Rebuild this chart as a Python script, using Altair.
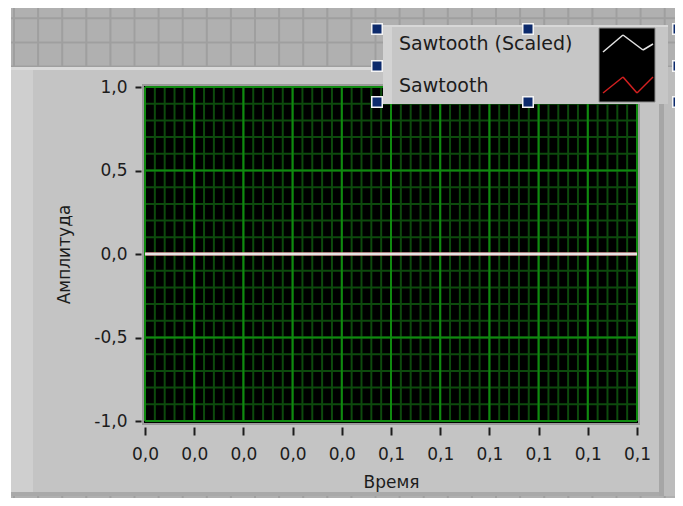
import json
import altair as alt
import pandas as pd

# ---------------- data ----------------
time_s = [0.0, 0.01, 0.02, 0.03, 0.04, 0.05, 0.06, 0.07, 0.08, 0.09, 0.1]
sawtooth_scaled = [0.0, 0.0, 0.0, 0.0, 0.0, 0.0, 0.0, 0.0, 0.0, 0.0, 0.0]
sawtooth = [0.0, 0.0, 0.0, 0.0, 0.0, 0.0, 0.0, 0.0, 0.0, 0.0, 0.0]
series_names = ["Sawtooth (Scaled)", "Sawtooth"]
series_colors = ["#e4e4e4", "#d42020"]

x_tick_values = [0.0, 0.01, 0.02, 0.03, 0.04, 0.05, 0.06, 0.07, 0.08, 0.09, 0.1]
x_tick_labels = ["0,0", "0,0", "0,0", "0,0", "0,0", "0,1", "0,1", "0,1", "0,1", "0,1", "0,1"]
y_tick_values = [-1.0, -0.5, 0.0, 0.5, 1.0]
y_tick_labels = ["-1,0", "-0,5", "0,0", "0,5", "1,0"]
x_title = "Время"
y_title = "Амплитуда"

FONT = "DejaVu Sans"
TXT = "#1c1c1c"

# plot-area origin in page pixels (page has 8px margin)
PX, PY = 145, 87
W, H = 492, 334
CW, CH = 667, 490  # whole canvas, fits the window without scrollbars

df_scaled = pd.DataFrame({"t": time_s, "v": sawtooth_scaled, "s": series_names[0]})
df_saw = pd.DataFrame({"t": time_s, "v": sawtooth, "s": series_names[1]})

x_scale = alt.Scale(domain=[0, 0.1], nice=False, zero=False)
y_scale = alt.Scale(domain=[-1, 1], nice=False, zero=False)

x_axis = alt.Axis(
    values=x_tick_values,
    labelExpr=f"{json.dumps(x_tick_labels)}[round(datum.value*100)]",
    grid=False, domain=False, tickSize=8, tickWidth=2, tickColor=TXT,
    offset=6, labelPadding=11, labelFont=FONT, labelFontSize=17, labelColor=TXT,
    labelFlush=False, labelOverlap=False,
    title=x_title, titleFont=FONT, titleFontSize=17, titleFontWeight="normal",
    titleColor=TXT, titlePadding=12, zindex=3,
)
y_axis = alt.Axis(
    values=y_tick_values,
    labelExpr=f"{json.dumps(y_tick_labels)}[round(datum.value*2+2)]",
    grid=False, domain=False, tickSize=6, tickWidth=2, tickColor=TXT,
    offset=4, labelPadding=8, labelFont=FONT, labelFontSize=17, labelColor=TXT,
    labelFlush=False, labelOverlap=False,
    title=y_title, titleFont=FONT, titleFontSize=17, titleFontWeight="normal",
    titleColor=TXT, titlePadding=20, zindex=3,
)

ONE = alt.Data(values=[{"k": 0}])


def rect(x1, y1, x2, y2, fill, stroke=None, sw=0):
    kw = dict(fill=fill, strokeWidth=sw)
    if stroke:
        kw["stroke"] = stroke
    return alt.Chart(ONE).mark_rect(**kw).encode(
        x=alt.value(x1 - PX), x2=alt.value(x2 - PX),
        y=alt.value(y1 - PY), y2=alt.value(y2 - PY))


def seg(x1, y1, x2, y2, color, sw):
    return alt.Chart(ONE).mark_rule(color=color, strokeWidth=sw).encode(
        x=alt.value(x1 - PX), x2=alt.value(x2 - PX),
        y=alt.value(y1 - PY), y2=alt.value(y2 - PY))


def handle(cx, cy):
    return alt.Chart(ONE).mark_square(
        size=110, fill="#0c2a6c", stroke="#f4f4f4", strokeWidth=1.5, opacity=1
    ).encode(x=alt.value(cx - PX), y=alt.value(cy - PY))


layers = []
# panel background pattern
layers.append(rect(11, 8, 683, 506, "#b0b0b0"))
for k in range(28):
    x = 14 + 24.1 * k
    layers.append(seg(x, 8, x, 506, "#9f9f9f", 2))
for k in range(21):
    y = 18.3 + 24.1 * k
    layers.append(seg(11, y, 683, y, "#9f9f9f", 2))

# graph frame
layers.append(rect(11, 67, 683, 496, "#c4c4c4"))
layers.append(rect(11, 67, 33, 496, "#cfcfcf"))
layers.append(rect(11, 67, 683, 70, "#dadada"))
layers.append(rect(11, 492, 683, 496, "#a9a9a9"))
layers.append(rect(659, 67, 664, 496, "#a6a6a6"))
layers.append(rect(664, 67, 683, 496, "#bcbcbc"))

# plot area
layers.append(rect(143, 85, 639, 424, "#000000", "#9a9a9a", 2))

# grid
minor_x = alt.Chart(alt.sequence(0, 0.1005, 0.002, as_="t")).mark_rule(
    color="#0d4a0d", strokeWidth=2).encode(x=alt.X("t:Q", scale=x_scale, axis=x_axis))
minor_y = alt.Chart(alt.sequence(-1, 1.05, 0.1, as_="v")).mark_rule(
    color="#0d4a0d", strokeWidth=2).encode(y=alt.Y("v:Q", scale=y_scale, axis=y_axis))
major_x = alt.Chart(alt.sequence(0, 0.1005, 0.01, as_="t")).mark_rule(
    color="#0f8a0f", strokeWidth=2).encode(x=alt.X("t:Q", scale=x_scale, axis=x_axis))
major_y = alt.Chart(alt.sequence(-1, 1.05, 0.5, as_="v")).mark_rule(
    color="#0f8a0f", strokeWidth=2).encode(y=alt.Y("v:Q", scale=y_scale, axis=y_axis))
layers += [minor_x, minor_y, major_x, major_y]

# data lines
for d, c in [(df_saw, series_colors[1]), (df_scaled, series_colors[0])]:
    layers.append(alt.Chart(d).mark_line(color=c, strokeWidth=3).encode(
        x=alt.X("t:Q", scale=x_scale, axis=x_axis),
        y=alt.Y("v:Q", scale=y_scale, axis=y_axis)))

# legend (plot legend box)
layers.append(rect(383, 25, 668, 104, "#c6c6c6"))
layers.append(rect(383, 25, 392, 104, "#d3d3d3"))
layers.append(rect(383, 25, 668, 27, "#d8d8d8"))
layers.append(rect(599, 28, 655, 102, "#000000", "#8c8c8c", 1))
layers.append(alt.Chart(ONE).mark_text(
    text=series_names[0], font=FONT, fontSize=19, color=TXT, align="left", baseline="middle"
).encode(x=alt.value(399 - PX), y=alt.value(44 - PY)))
layers.append(alt.Chart(ONE).mark_text(
    text=series_names[1], font=FONT, fontSize=19, color=TXT, align="left", baseline="middle"
).encode(x=alt.value(399 - PX), y=alt.value(86 - PY)))
for (a, b) in [((603, 52), (623, 35)), ((623, 35), (643, 50)), ((643, 50), (653, 44))]:
    layers.append(seg(a[0], a[1], b[0], b[1], series_colors[0], 1.5))
for (a, b) in [((603, 93), (623, 77)), ((623, 77), (637, 93)), ((637, 93), (653, 77))]:
    layers.append(seg(a[0], a[1], b[0], b[1], series_colors[1], 1.5))
for (cx, cy) in [(377, 29), (528, 29), (678, 29), (377, 66), (678, 66),
                 (377, 102), (528, 102), (678, 102)]:
    layers.append(handle(cx, cy))

chart = alt.layer(*layers).properties(
    width=W, height=H,
    autosize=alt.AutoSizeParams(type="none"),
    padding={"left": PX - 8, "top": PY - 8,
             "right": CW - (PX - 8) - W, "bottom": CH - (PY - 8) - H},
    background="white",
).configure_view(stroke=None)

chart.save("out.html", embed_options={"renderer": "svg", "actions": False})
